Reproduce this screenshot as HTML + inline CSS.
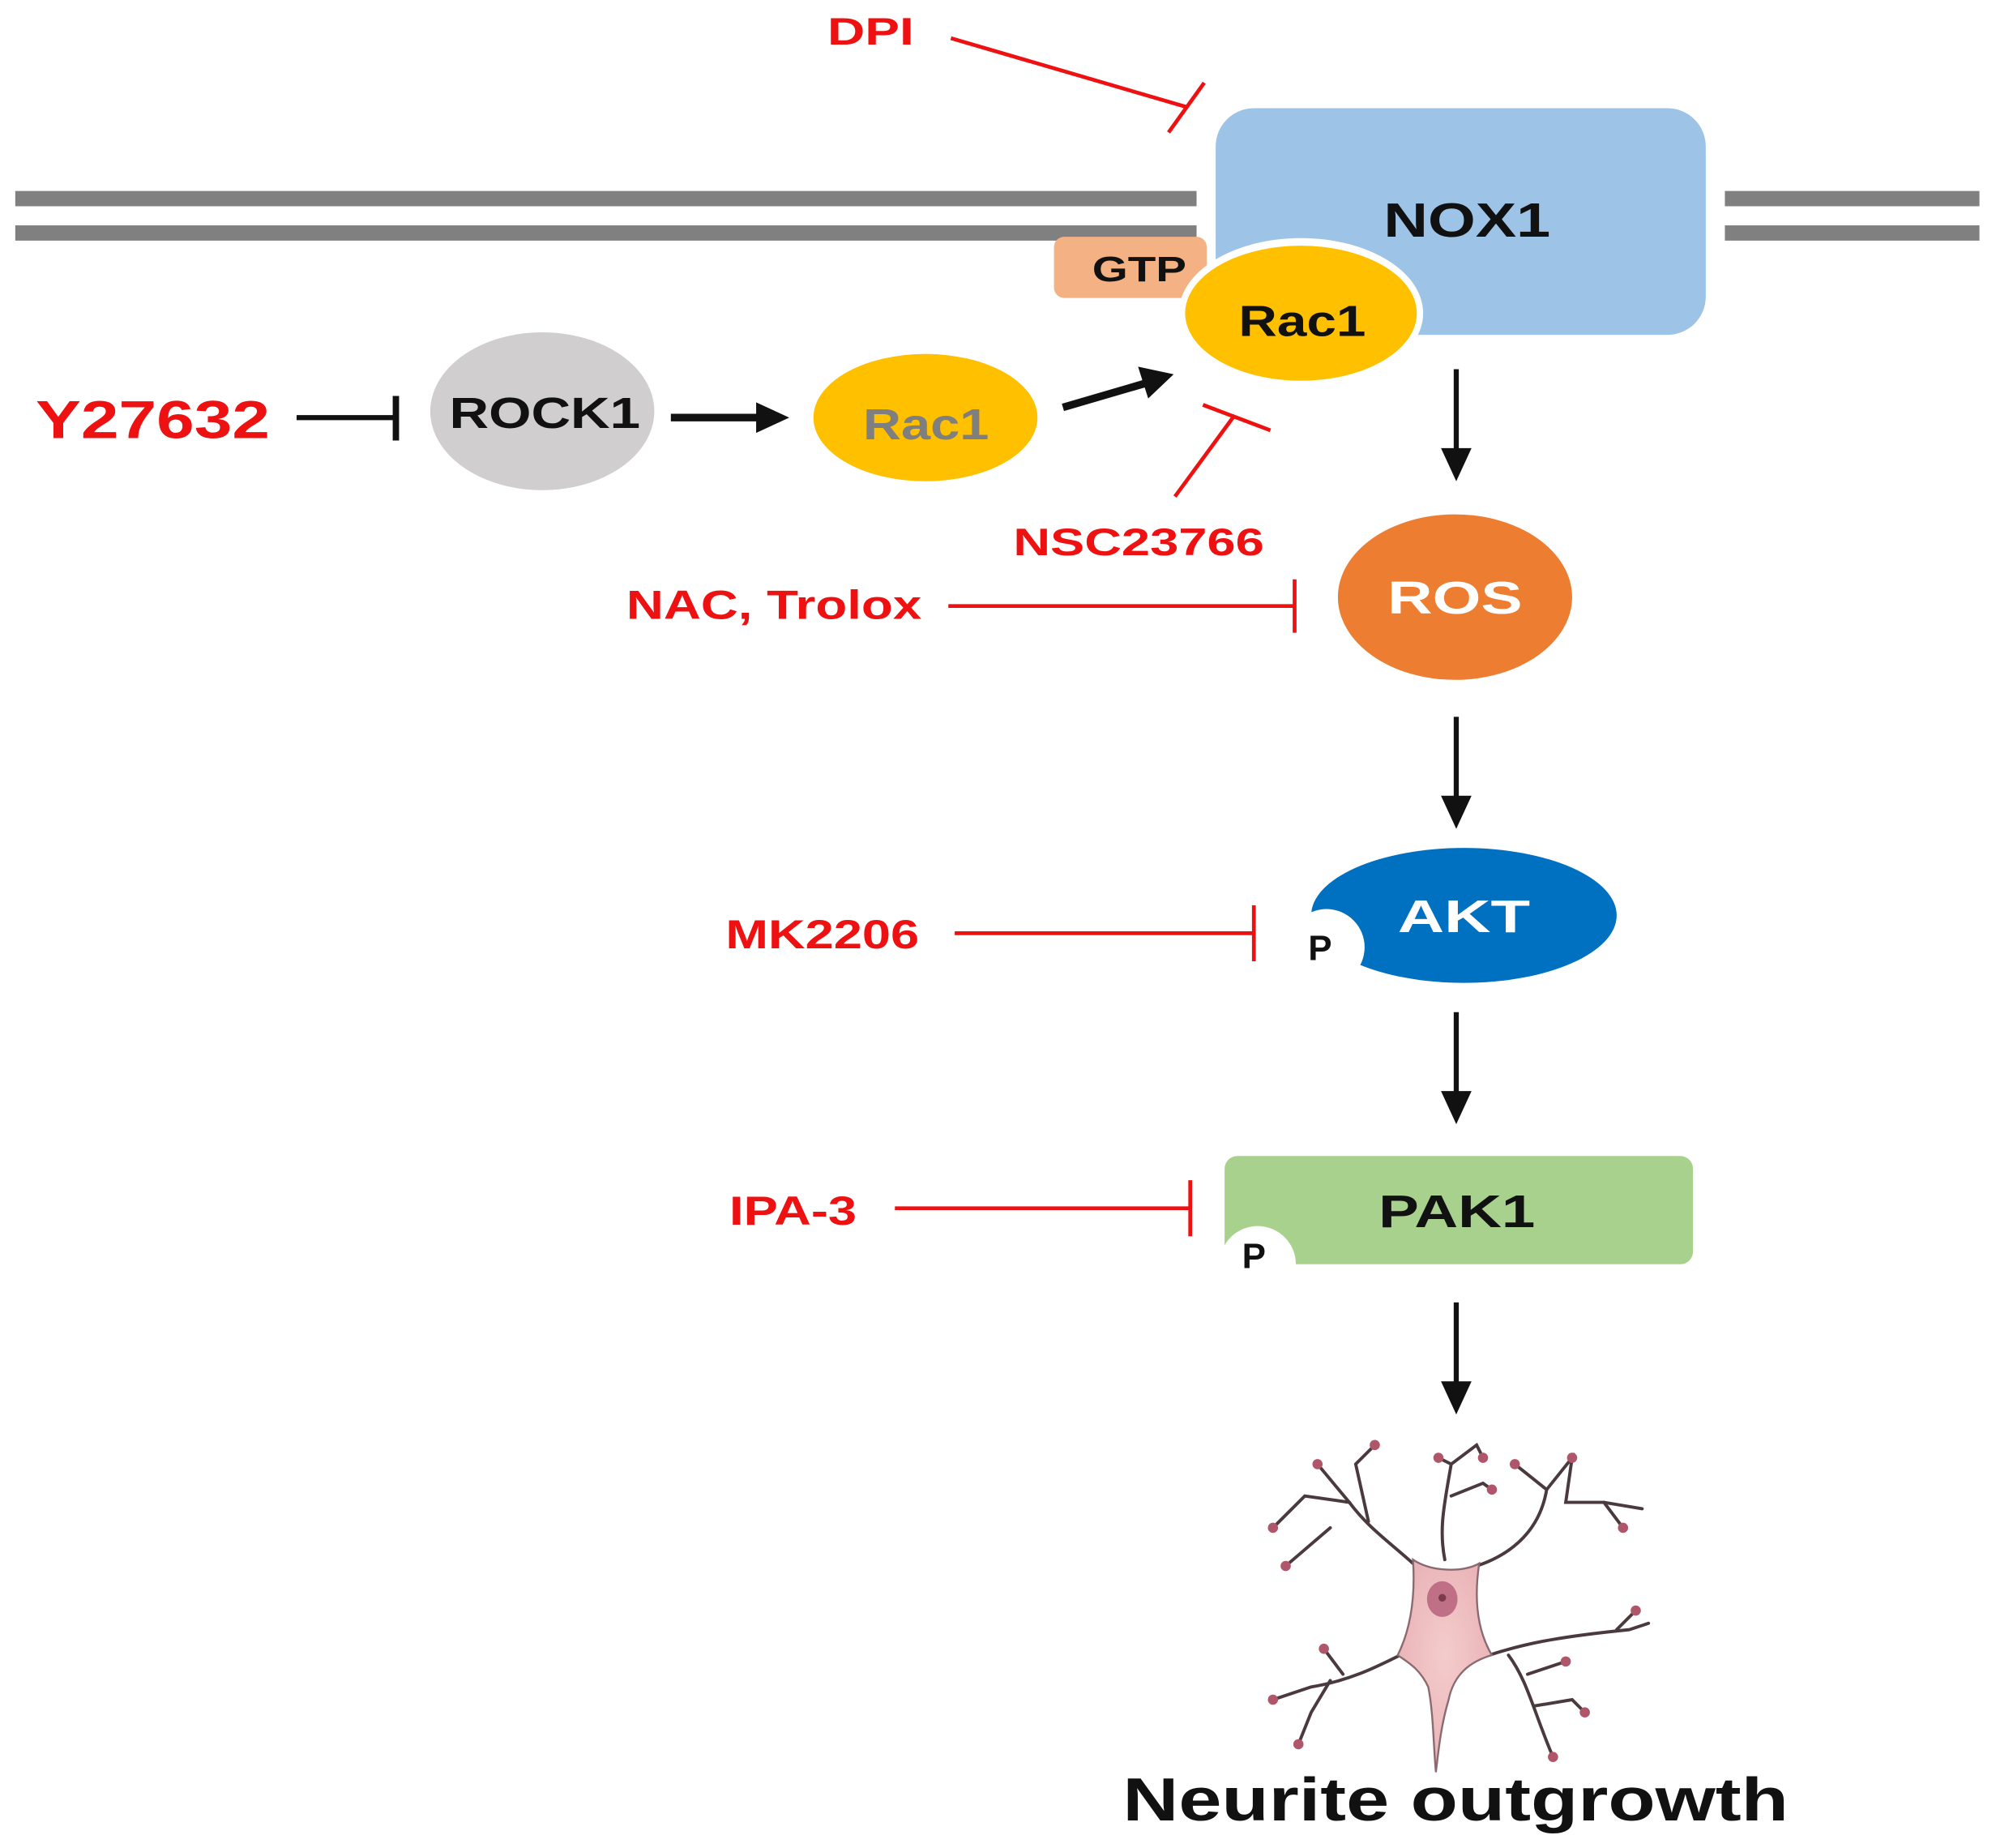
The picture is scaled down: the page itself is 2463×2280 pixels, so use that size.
<!DOCTYPE html>
<html><head><meta charset="utf-8"><style>
html,body{margin:0;padding:0;background:#fff}
svg{display:block}
text{font-family:"Liberation Sans",Arial,sans-serif;font-weight:bold}
</style></head><body>
<svg width="2463" height="2280" viewBox="0 0 1568 1451.5" xmlns="http://www.w3.org/2000/svg">
<defs>
<radialGradient id="body" cx="50%" cy="45%" r="60%"><stop offset="0" stop-color="#f4cccc"/><stop offset="1" stop-color="#e8b0b4"/></radialGradient>
</defs>
<rect width="1568" height="1451.5" fill="#fff"/>
<rect x="12" y="150" width="928" height="12" fill="#808080"/>
<rect x="12" y="177" width="928" height="12" fill="#808080"/>
<rect x="1355" y="150" width="200" height="12" fill="#808080"/>
<rect x="1355" y="177" width="200" height="12" fill="#808080"/>
<text x="650" y="35" font-size="30" fill="#ee1111" textLength="68" lengthAdjust="spacingAndGlyphs">DPI</text>
<line x1="747" y1="30" x2="932" y2="84" stroke="#ee1111" stroke-width="3"/>
<line x1="918" y1="104" x2="946" y2="65" stroke="#ee1111" stroke-width="3"/>
<rect x="955" y="85" width="385" height="178" rx="30" fill="#9DC3E6"/>
<text x="1087" y="186" font-size="38" fill="#111" textLength="131" lengthAdjust="spacingAndGlyphs">NOX1</text>
<rect x="828" y="186" width="120" height="48" rx="8" fill="#F4B183"/>
<text x="858" y="221" font-size="28" fill="#111" textLength="74" lengthAdjust="spacingAndGlyphs">GTP</text>
<ellipse cx="1022" cy="246" rx="96" ry="59" fill="#fff"/>
<ellipse cx="1022" cy="246" rx="91" ry="53" fill="#FFC000"/>
<text x="973" y="264" font-size="34" fill="#111" textLength="100" lengthAdjust="spacingAndGlyphs">Rac1</text>
<text x="28" y="344" font-size="42" fill="#ee1111" textLength="184" lengthAdjust="spacingAndGlyphs">Y27632</text>
<line x1="233" y1="328" x2="311" y2="328" stroke="#111" stroke-width="4"/>
<line x1="311" y1="311" x2="311" y2="346" stroke="#111" stroke-width="5"/>
<ellipse cx="426" cy="323" rx="88" ry="62" fill="#D0CECE"/>
<text x="353" y="336" font-size="34" fill="#111" textLength="150" lengthAdjust="spacingAndGlyphs">ROCK1</text>
<line x1="527" y1="328" x2="596" y2="328" stroke="#111" stroke-width="6"/>
<polygon points="594,316 620,328 594,340" fill="#111"/>
<ellipse cx="727" cy="328" rx="88" ry="50" fill="#FFC000"/>
<text x="678" y="345" font-size="34" fill="#7F7F7F" textLength="99" lengthAdjust="spacingAndGlyphs">Rac1</text>
<line x1="835" y1="320" x2="900" y2="301" stroke="#111" stroke-width="6"/>
<polygon points="894,288 922,294 902,313" fill="#111"/>
<line x1="923" y1="390" x2="970" y2="326" stroke="#ee1111" stroke-width="3"/>
<line x1="945" y1="318" x2="998" y2="338" stroke="#ee1111" stroke-width="3"/>
<text x="796" y="436" font-size="30" fill="#ee1111" textLength="197" lengthAdjust="spacingAndGlyphs">NSC23766</text>
<line x1="1144" y1="290" x2="1144" y2="355" stroke="#111" stroke-width="4"/>
<polygon points="1132,352 1144,378 1156,352" fill="#111"/>
<ellipse cx="1143" cy="469" rx="92" ry="65" fill="#ED7D31"/>
<text x="1090" y="482" font-size="36" fill="#fff" textLength="106" lengthAdjust="spacingAndGlyphs">ROS</text>
<text x="492" y="486" font-size="32" fill="#ee1111" textLength="232" lengthAdjust="spacingAndGlyphs">NAC, Trolox</text>
<line x1="745" y1="476" x2="1017" y2="476" stroke="#ee1111" stroke-width="3"/>
<line x1="1017" y1="455" x2="1017" y2="497" stroke="#ee1111" stroke-width="3"/>
<line x1="1144" y1="563" x2="1144" y2="628" stroke="#111" stroke-width="4"/>
<polygon points="1132,625 1144,651 1156,625" fill="#111"/>
<ellipse cx="1150" cy="719" rx="120" ry="53" fill="#0070C0"/>
<text x="1098" y="732" font-size="36" fill="#fff" textLength="104" lengthAdjust="spacingAndGlyphs">AKT</text>
<circle cx="1042" cy="744" r="30" fill="#fff"/>
<text x="1037" y="754" font-size="28" fill="#111" text-anchor="middle">P</text>
<text x="570" y="745" font-size="32" fill="#ee1111" textLength="152" lengthAdjust="spacingAndGlyphs">MK2206</text>
<line x1="750" y1="733" x2="985" y2="733" stroke="#ee1111" stroke-width="3"/>
<line x1="985" y1="711" x2="985" y2="755" stroke="#ee1111" stroke-width="3"/>
<line x1="1144" y1="795" x2="1144" y2="860" stroke="#111" stroke-width="4"/>
<polygon points="1132,857 1144,883 1156,857" fill="#111"/>
<rect x="962" y="908" width="368" height="85" rx="10" fill="#A9D18E"/>
<text x="1083" y="964" font-size="36" fill="#111" textLength="123" lengthAdjust="spacingAndGlyphs">PAK1</text>
<circle cx="988" cy="993" r="30" fill="#fff"/>
<text x="985" y="996" font-size="28" fill="#111" text-anchor="middle">P</text>
<text x="573" y="962" font-size="32" fill="#ee1111" textLength="100" lengthAdjust="spacingAndGlyphs">IPA-3</text>
<line x1="703" y1="949" x2="935" y2="949" stroke="#ee1111" stroke-width="3"/>
<line x1="935" y1="927" x2="935" y2="971" stroke="#ee1111" stroke-width="3"/>
<line x1="1144" y1="1023" x2="1144" y2="1088" stroke="#111" stroke-width="4"/>
<polygon points="1132,1085 1144,1111 1156,1085" fill="#111"/>
<g stroke="#4a3a3e" stroke-width="2.5" fill="none" stroke-linecap="round">
<path d="M1110,1228 C1090,1210 1075,1200 1060,1180 L1035,1150"/>
<path d="M1060,1180 L1025,1175 L1000,1200"/>
<path d="M1045,1200 L1010,1230"/>
<path d="M1075,1195 L1065,1150 L1080,1135"/>
<path d="M1135,1225 C1130,1200 1135,1180 1140,1150 L1130,1145"/>
<path d="M1140,1150 L1160,1135 L1165,1145"/>
<path d="M1140,1175 L1165,1165 L1172,1170"/>
<path d="M1160,1230 C1190,1220 1210,1200 1215,1170 L1190,1150"/>
<path d="M1215,1170 L1235,1145 L1230,1180 L1260,1180 L1290,1185"/>
<path d="M1260,1180 L1275,1200"/>
<path d="M1100,1300 C1080,1310 1060,1320 1030,1325 L1000,1335"/>
<path d="M1045,1320 L1030,1345 L1020,1370"/>
<path d="M1055,1315 L1040,1295"/>
<path d="M1170,1300 C1200,1290 1230,1285 1280,1280 L1295,1275"/>
<path d="M1185,1300 C1200,1320 1205,1345 1220,1380"/>
<path d="M1205,1340 L1235,1335 L1245,1345"/>
<path d="M1270,1280 L1285,1265"/>
<path d="M1200,1315 L1230,1305"/>
</g>
<g fill="#b0566a">
<circle cx="1035" cy="1150" r="4"/><circle cx="1000" cy="1200" r="4"/><circle cx="1010" cy="1230" r="4"/>
<circle cx="1080" cy="1135" r="4"/><circle cx="1130" cy="1145" r="4"/><circle cx="1165" cy="1145" r="4"/>
<circle cx="1172" cy="1170" r="4"/><circle cx="1190" cy="1150" r="4"/><circle cx="1235" cy="1145" r="4"/>
<circle cx="1275" cy="1200" r="4"/><circle cx="1000" cy="1335" r="4"/><circle cx="1020" cy="1370" r="4"/>
<circle cx="1040" cy="1295" r="4"/><circle cx="1285" cy="1265" r="4"/><circle cx="1245" cy="1345" r="4"/>
<circle cx="1230" cy="1305" r="4"/><circle cx="1220" cy="1380" r="4"/>
</g>
<path d="M1110,1225 C1125,1235 1150,1235 1162,1228 C1158,1255 1160,1280 1172,1300 C1155,1305 1142,1315 1138,1335 C1132,1355 1130,1375 1128,1392 C1126,1370 1126,1345 1122,1325 C1115,1310 1105,1305 1098,1300 C1108,1280 1112,1255 1110,1225 Z" fill="url(#body)" stroke="#8a6a70" stroke-width="1.5"/>
<ellipse cx="1133" cy="1256" rx="12" ry="14" fill="#c07086"/>
<circle cx="1133" cy="1255" r="3" fill="#7a3a4a"/>
<text x="882" y="1430" font-size="48" fill="#111" textLength="523" lengthAdjust="spacingAndGlyphs">Neurite outgrowth</text>
</svg>
</body></html>
